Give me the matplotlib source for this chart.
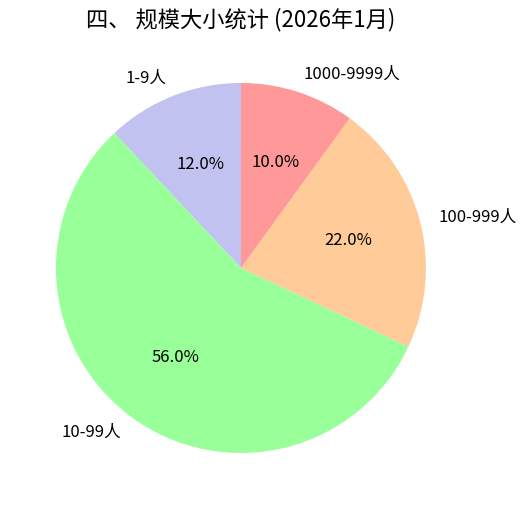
import matplotlib.pyplot as plt

plt.rcParams['font.family'] = ['Noto Sans CJK SC', 'DejaVu Sans']

labels = ['1-9人', '10-99人', '100-999人', '1000-9999人']
sizes = [12.0, 56.0, 22.0, 10.0]
colors = ['#c2c2f0', '#99ff99', '#ffcc99', '#ff9999']

fig = plt.figure(figsize=(5.26, 5.09), dpi=100)
ax = fig.add_axes([0.0185, 0.0192, 0.8793, 0.9087])
ax.pie(sizes, labels=labels, colors=colors, autopct='%1.1f%%', startangle=90,
       textprops={'fontsize': 12})
fig.text(0.458, 0.961, '四、 规模大小统计 (2026年1月)', fontsize=16,
         ha='center', va='center')
fig.savefig('out.png', dpi=100)
